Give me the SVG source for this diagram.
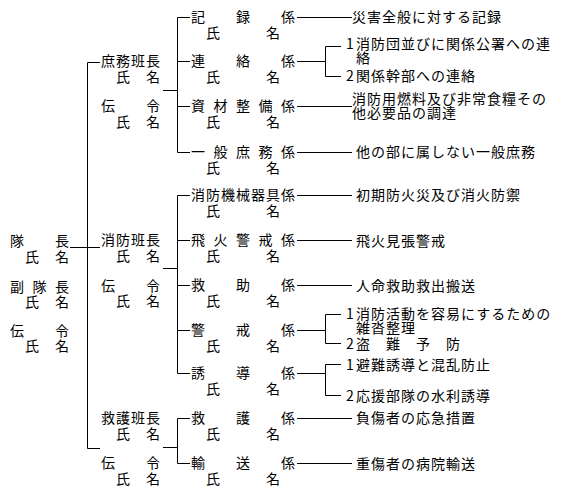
<svg xmlns="http://www.w3.org/2000/svg" width="562" height="494" viewBox="0 0 562 494">
<style>
  text { font-family: "Noto Sans CJK JP", "Noto Sans CJK SC", sans-serif; font-size: 14px; letter-spacing: 1px; fill: #000; }
  .ln { stroke: #000; stroke-width: 1; fill: none; }
</style>
<rect width="562" height="494" fill="#fff"/>

<g id="connectors" class="ln">
  <!-- main trunk -->
  <path d="M87.5 62.5 V448.5 M87.5 62.5 H100 M70 247.5 H100 M87.5 448.5 H100"/>
  <!-- 庶務班 bracket -->
  <path d="M163 90.5 H177.5 M177.5 17.5 V152.5 M177.5 17.5 H190 M177.5 61.5 H190 M177.5 106.5 H190 M177.5 152.5 H190"/>
  <!-- 消防班 bracket -->
  <path d="M163 268.5 H177.5 M177.5 195.5 V373.5 M177.5 195.5 H190 M177.5 240.5 H190 M177.5 285.5 H190 M177.5 330.5 H190 M177.5 373.5 H190"/>
  <!-- 救護班 bracket -->
  <path d="M163 447.5 H177.5 M177.5 418.5 V463.5 M177.5 418.5 H190 M177.5 463.5 H190"/>
  <!-- duty lines -->
  <path d="M297 17.5 H352 M297 106.5 H352 M297 152.5 H352 M297 195.5 H352 M297 240.5 H352 M297 285.5 H352 M297 418.5 H352 M297 463.5 H352"/>
  <path d="M297 61.5 H325.5 M325.5 46.5 V76.5 M325.5 46.5 H341 M325.5 76.5 H341"/>
  <path d="M297 330.5 H325.5 M325.5 314.5 V343.5 M325.5 314.5 H341 M325.5 343.5 H341"/>
  <path d="M297 373.5 H325.5 M325.5 364.5 V395.5 M325.5 364.5 H341 M325.5 395.5 H341"/>
</g>

<g id="taicho">
  <text x="10" y="246">隊　　長</text>
  <text x="10" y="262">　氏　名</text>
</g>
<g id="fuku-taicho">
  <text x="10 25 32.5 47.5 55" y="292">副 隊 長</text>
  <text x="10" y="307">　氏　名</text>
</g>
<g id="denrei-hq">
  <text x="10" y="336">伝　　令</text>
  <text x="10" y="351">　氏　名</text>
</g>

<g id="shomu-han">
  <text x="101" y="66">庶務班長</text>
  <text x="101" y="82">　氏　名</text>
  <text x="101" y="111">伝　　令</text>
  <text x="101" y="127">　氏　名</text>
</g>
<g id="shobo-han">
  <text x="101" y="245">消防班長</text>
  <text x="101" y="261">　氏　名</text>
  <text x="101" y="291">伝　　令</text>
  <text x="101" y="306">　氏　名</text>
</g>
<g id="kyugo-han">
  <text x="101" y="423">救護班長</text>
  <text x="101" y="439">　氏　名</text>
  <text x="101" y="468">伝　　令</text>
  <text x="101" y="484">　氏　名</text>
</g>

<g id="kiroku">
  <text x="191" y="22">記　　録　　係</text>
  <text x="191" y="38">　氏　　　名</text>
  <text x="352" y="21.5">災害全般に対する記録</text>
</g>
<g id="renraku">
  <text x="191" y="66">連　　絡　　係</text>
  <text x="191" y="82">　氏　　　名</text>
  <text x="346 356" y="49">1消防団並びに関係公署への連</text>
  <text x="356" y="63">絡</text>
  <text x="346 356" y="81">2関係幹部への連絡</text>
</g>
<g id="shizai">
  <text x="191 206 213.5 228.5 236 251 258.5 273.5 281" y="111">資 材 整 備 係</text>
  <text x="191" y="127">　氏　　　名</text>
  <text x="352" y="104">消防用燃料及び非常食糧その</text>
  <text x="352" y="118">他必要品の調達</text>
</g>
<g id="ippan">
  <text x="191 206 213.5 228.5 236 251 258.5 273.5 281" y="157">一 般 庶 務 係</text>
  <text x="191" y="173">　氏　　　名</text>
  <text x="356" y="157">他の部に属しない一般庶務</text>
</g>
<g id="kikai">
  <text x="191" y="200">消防機械器具係</text>
  <text x="191" y="216">　氏　　　名</text>
  <text x="356" y="200">初期防火災及び消火防禦</text>
</g>
<g id="hika">
  <text x="191 206 213.5 228.5 236 251 258.5 273.5 281" y="245">飛 火 警 戒 係</text>
  <text x="191" y="261">　氏　　　名</text>
  <text x="356" y="246">飛火見張警戒</text>
</g>
<g id="kyujo">
  <text x="191" y="290">救　　助　　係</text>
  <text x="191" y="306">　氏　　　名</text>
  <text x="356" y="291">人命救助救出搬送</text>
</g>
<g id="keikai">
  <text x="191" y="335">警　　戒　　係</text>
  <text x="191" y="351">　氏　　　名</text>
  <text x="346 356" y="319">1消防活動を容易にするための</text>
  <text x="356" y="333">雑沓整理</text>
  <text x="346 356" y="349">2盗　難　予　防</text>
</g>
<g id="yudo">
  <text x="191" y="378">誘　　導　　係</text>
  <text x="191" y="394">　氏　　　名</text>
  <text x="346 356" y="370">1避難誘導と混乱防止</text>
  <text x="346 356" y="401">2応援部隊の水利誘導</text>
</g>
<g id="kyugo">
  <text x="191" y="423">救　　護　　係</text>
  <text x="191" y="439">　氏　　　名</text>
  <text x="356" y="423">負傷者の応急措置</text>
</g>
<g id="yuso">
  <text x="191" y="468">輸　　送　　係</text>
  <text x="191" y="484">　氏　　　名</text>
  <text x="356" y="469">重傷者の病院輸送</text>
</g>
</svg>
